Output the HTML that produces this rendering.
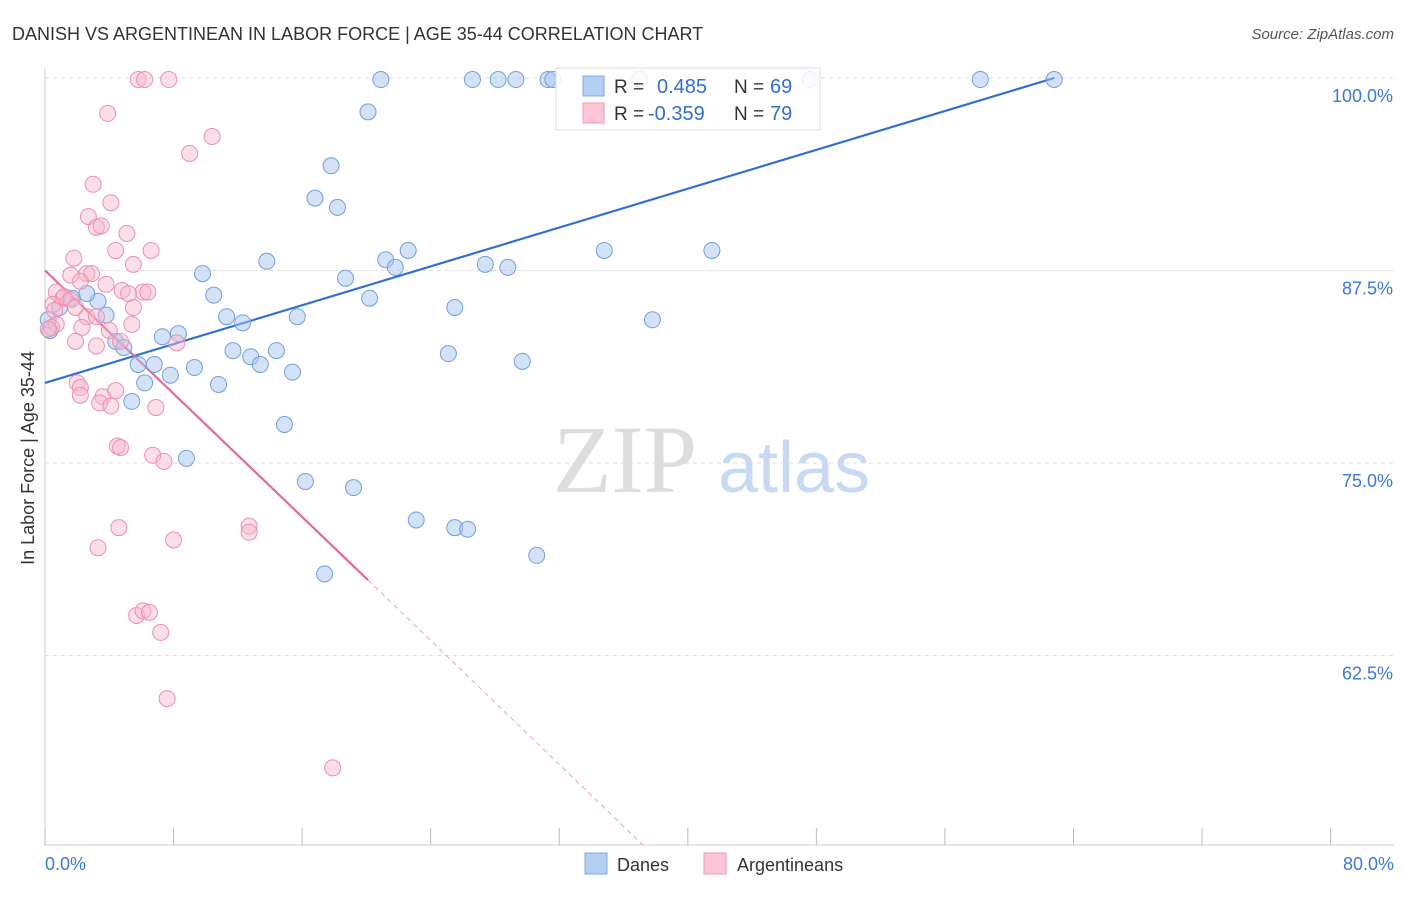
<!DOCTYPE html>
<html><head><meta charset="utf-8"><style>
body{margin:0;background:#fff;width:1406px;height:892px;overflow:hidden;font-family:"Liberation Sans",sans-serif}
</style></head><body>
<svg id="chart" width="1406" height="892" xmlns="http://www.w3.org/2000/svg">
<text x="12" y="40" font-size="18" fill="#333">DANISH VS ARGENTINEAN IN LABOR FORCE | AGE 35-44 CORRELATION CHART</text>
<text x="1394" y="39" font-size="15" fill="#555" font-style="italic" text-anchor="end">Source: ZipAtlas.com</text>
<text x="34" y="458" font-size="18" fill="#333" text-anchor="middle" transform="rotate(-90 34 458)">In Labor Force | Age 35-44</text>
<g>
<text x="553" y="492" font-size="96" font-family="Liberation Serif,serif" fill="#ddd">ZIP</text>
<text x="718" y="492" font-size="72" fill="#c8daf3">atlas</text>
</g>
<g id="grid"></g><g id="axes"></g><g id="trends"></g><g id="pts"></g>
<g>
<rect x="556" y="68" width="264" height="62" fill="#fff" fill-opacity="0.85" stroke="#ddd"/>
<rect x="583" y="76" width="21" height="20" fill="#b4cff2" stroke="#7fa8e3"/>
<text x="614" y="93" font-size="19" fill="#333">R = </text><text x="657" y="93" font-size="20" fill="#2f6fd4">0.485</text>
<text x="734" y="93" font-size="19" fill="#333">N = </text><text x="770" y="93" font-size="20" fill="#2f6fd4">69</text>
<rect x="583" y="103" width="21" height="20" fill="#fbc5d6" stroke="#ef9ab8"/>
<text x="614" y="120" font-size="19" fill="#333">R = </text><text x="648" y="120" font-size="20" fill="#2f6fd4">-0.359</text>
<text x="734" y="120" font-size="19" fill="#333">N = </text><text x="770" y="120" font-size="20" fill="#2f6fd4">79</text>
</g>
<g>
<rect x="585" y="853" width="22" height="21" fill="#b4cff2" stroke="#7fa8e3"/>
<text x="617" y="871" font-size="18" fill="#333">Danes</text>
<rect x="704" y="853" width="22" height="21" fill="#fbc5d6" stroke="#ef9ab8"/>
<text x="737" y="871" font-size="18" fill="#333">Argentineans</text>
</g>
</svg>
<script>
const yTicks=[100,87.5,75,62.5];
const yTickLabels=["100.0%","87.5%","75.0%","62.5%"];
const xTickLabels=["0.0%","80.0%"];
const blueX=[20.9,26.6,28.2,29.3,31.3,31.6,37.0,47.6,58.2,62.8,20.1,17.8,16.8,18.2,13.8,9.8,22.6,34.8,41.5,21.2,21.8,27.4,28.8,18.7,10.5,3.3,20.2,25.5,11.3,15.7,12.3,3.8,37.8,8.3,7.3,4.4,4.9,11.7,14.4,25.1,12.8,13.4,29.7,5.8,6.8,9.3,15.4,7.8,6.2,10.8,5.4,14.9,8.8,16.2,19.2,23.1,25.5,26.3,30.6,17.4,0.3,2.6,0.9,0.2,1.7];
const blueY=[99.9,99.9,99.9,99.9,99.9,99.9,99.9,99.9,99.9,99.9,97.8,94.3,92.2,91.6,88.1,87.3,88.8,88.8,88.8,88.2,87.7,87.9,87.7,87.0,85.9,85.5,85.7,85.1,84.5,84.5,84.1,84.6,84.3,83.4,83.2,82.9,82.5,82.3,82.3,82.1,81.9,81.4,81.6,81.4,81.4,81.2,80.9,80.7,80.2,80.1,79.0,77.5,75.3,73.8,73.4,71.3,70.8,70.7,69.0,67.8,83.6,86.0,85.1,84.3,85.7];
const pinkX=[5.8,6.2,7.7,3.9,10.4,9.0,3.0,4.1,2.7,3.2,3.5,5.1,6.6,4.4,1.8,5.5,1.6,2.6,2.9,2.2,3.8,4.8,6.1,6.4,5.2,0.7,1.1,1.2,1.6,0.5,1.9,0.6,5.5,2.6,3.2,5.4,0.7,0.4,2.3,4.0,4.7,1.9,8.2,3.2,2.0,2.2,2.2,3.6,3.4,4.1,6.9,4.4,4.5,4.7,6.7,7.4,4.6,3.3,8.0,12.7,12.7,5.7,6.1,6.5,7.2,7.6,17.9,0.2];
const pinkY=[99.9,99.9,99.9,97.7,96.2,95.1,93.1,91.9,91.0,90.3,90.4,89.9,88.8,88.8,88.3,87.9,87.2,87.3,87.3,86.8,86.6,86.2,86.1,86.1,86.0,86.1,85.7,85.8,85.6,85.3,85.1,84.9,85.1,84.5,84.5,84.0,84.0,83.8,83.8,83.6,82.9,82.9,82.8,82.6,80.2,79.9,79.4,79.3,78.9,78.7,78.6,79.7,76.1,76.0,75.5,75.1,70.8,69.5,70.0,70.9,70.5,65.1,65.4,65.3,64.0,59.7,55.2,83.7];
const blueTrendX=[0,62.8], blueTrendY=[80.2,100];
const pinkTrendX=[0,20.1,37.2], pinkTrendY=[87.5,67.4,50.2];
const NS="http://www.w3.org/2000/svg";
const xs=v=>45+v*16.07, ys=v=>78+(100-v)*15.4;
function mk(tag,attrs,parent){const e=document.createElementNS(NS,tag);for(const k in attrs)e.setAttribute(k,attrs[k]);parent.appendChild(e);return e;}
const grid=document.getElementById('grid'),axes=document.getElementById('axes');
yTicks.forEach((t,i)=>{
 const l=mk('line',{x1:45,x2:1394,y1:ys(t),y2:ys(t),stroke:'#ddd','stroke-dasharray':'4,4'},grid);
 
 
 const tx=mk('text',{x:1393,y:ys(t)+24,'font-size':18,fill:'#3b78d8','text-anchor':'end'},axes);
 tx.textContent=yTickLabels[i];
 
 
});
const ax=mk('line',{x1:45,x2:1394,y1:845,y2:845,stroke:'#ccc'},axes);


const ay=mk('line',{x1:45,x2:45,y1:68,y2:845,stroke:'#ccc'},axes);


for(let i=0;i<=10;i++){const t=mk('line',{x1:xs(i*8),x2:xs(i*8),y1:828,y2:845,stroke:'#bbb'},axes);
 
 }
const xl0=mk('text',{x:45,y:870,'font-size':18,fill:'#3b78d8'},axes);xl0.textContent=xTickLabels[0];


const xl1=mk('text',{x:1394,y:870,'font-size':18,fill:'#3b78d8','text-anchor':'end'},axes);xl1.textContent=xTickLabels[1];


const pts=document.getElementById('pts');
blueX.forEach((x,i)=>{const c=mk('circle',{cx:xs(x),cy:ys(blueY[i]),r:8,fill:'#a9c6ee','fill-opacity':0.5,stroke:'#6f9fe0','stroke-width':1},pts);
 
 });
pinkX.forEach((x,i)=>{const c=mk('circle',{cx:xs(x),cy:ys(pinkY[i]),r:8,fill:'#f5b7cb','fill-opacity':0.45,stroke:'#ec8fb0','stroke-width':1},pts);
 
 });
const tr=document.getElementById('trends');
const bl=mk('line',{x1:xs(blueTrendX[0]),y1:ys(blueTrendY[0]),x2:xs(blueTrendX[1]),y2:ys(blueTrendY[1]),stroke:'#2f6fd4','stroke-width':2.2},tr);


const pl=mk('line',{x1:xs(pinkTrendX[0]),y1:ys(pinkTrendY[0]),x2:xs(pinkTrendX[1]),y2:ys(pinkTrendY[1]),stroke:'#e8679a','stroke-width':2.2},tr);


const pd=mk('line',{x1:xs(pinkTrendX[1]),y1:ys(pinkTrendY[1]),x2:xs(pinkTrendX[2]),y2:ys(pinkTrendY[2]),stroke:'#eea0bc','stroke-width':1,'stroke-dasharray':'5,4'},tr);


</script>
</body></html>
